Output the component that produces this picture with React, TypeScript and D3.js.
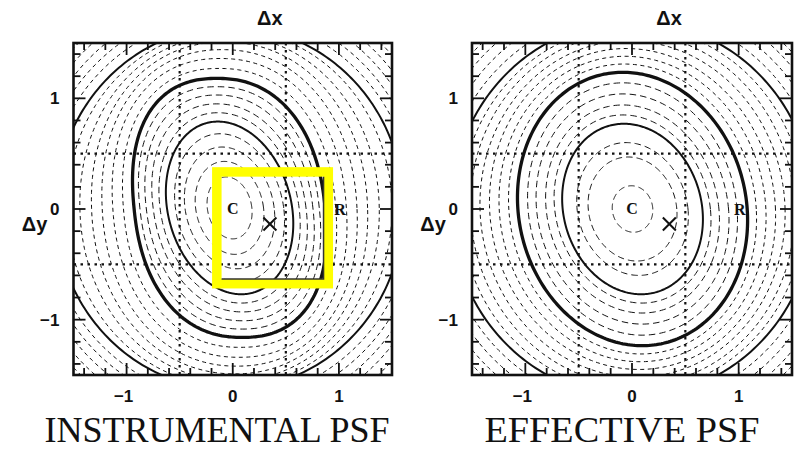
import React from "react";
import * as d3 from "d3";

// each contour: half-width where it crosses the centre row, half-height,
// x-offset of its top point (tilt), squareness exponent (2 = ellipse)
// and line kind (d = dashed, s = thin solid, t = thick)
const instrumentalA = [0.21, 0.32, 0.42, 0.51, 0.59, 0.655, 0.72, 0.785, 0.845, 0.9, 1.0, 1.1, 1.2, 1.3, 1.41, 1.53, 1.64, 1.73, 1.81, 1.89, 1.97, 2.06];
const instrumentalH = [0.28, 0.42, 0.55, 0.67, 0.78, 0.86, 0.94, 1.02, 1.095, 1.17, 1.26, 1.35, 1.43, 1.5, 1.56, 1.61, 1.64, 1.73, 1.81, 1.89, 1.97, 2.06];
const instrumentalB = [-0.03, -0.05, -0.07, -0.09, -0.11, -0.11, -0.12, -0.12, -0.12, -0.12, -0.1, -0.09, -0.07, -0.05, -0.03, -0.01, 0, 0, 0, 0, 0, 0];
const instrumentalP = [2, 2, 2, 2, 2, 2.06, 2.12, 2.18, 2.24, 2.3, 2.25, 2.2, 2.15, 2.1, 2.05, 2.02, 2, 2, 2, 2, 2, 2];
const instrumentalKind = ["d", "d", "d", "d", "s", "d", "d", "d", "d", "t", "d", "d", "d", "d", "d", "d", "s", "d", "d", "d", "d", "d"];
const instrumentalCentre = [-0.03, 0.01];

const effectiveA = [0.19, 0.415, 0.52, 0.655, 0.73, 0.81, 0.9, 0.98, 1.075, 1.16, 1.25, 1.34, 1.43, 1.52, 1.61, 1.7, 1.79, 1.88, 1.97, 2.06];
const effectiveH = [0.21, 0.47, 0.6, 0.77, 0.85, 0.94, 1.04, 1.14, 1.235, 1.31, 1.38, 1.45, 1.52, 1.59, 1.65, 1.7, 1.79, 1.88, 1.97, 2.06];
const effectiveB = [-0.01, -0.04, -0.06, -0.08, -0.09, -0.09, -0.09, -0.09, -0.09, -0.08, -0.07, -0.06, -0.04, -0.03, -0.01, 0, 0, 0, 0, 0];
const effectiveP = [2, 2, 2, 2, 2, 2, 2, 2, 2, 2, 2, 2, 2, 2, 2, 2, 2, 2, 2, 2];
const effectiveKind = ["d", "d", "d", "s", "d", "d", "d", "d", "t", "d", "d", "d", "d", "d", "d", "s", "d", "d", "d", "d"];
const effectiveCentre = [0.005, 0.0];

const gridLines = [-0.5, 0.5];
const majorTicks = [-1, 0, 1];
const minorTicks = [-1.4, -1.2, -0.8, -0.6, -0.4, -0.2, 0.2, 0.4, 0.6, 0.8, 1.2, 1.4];
const tickLabels = ["\u22121", "0", "1"];

// marked positions
const centreMark = [0, 0];
const rightMark = [1.01, 0];
const crossMark = [0.35, -0.135];
const boxX = [-0.15, 0.9];
const boxY = [-0.675, 0.335];

const titles = ["INSTRUMENTAL PSF", "EFFECTIVE PSF"];

const TOP = 43;
const BOTTOM = 375;

const spow = (v, e) => Math.sign(v) * Math.pow(Math.abs(v), e);

const Panel = ({ id, left, right, A, Hs, B, P, kinds, centre, title, titleX, titleLen, showBox }) => {
  const x = d3.scaleLinear().domain([-1.5, 1.5]).range([left, right]);
  const y = d3.scaleLinear().domain([-1.5, 1.5]).range([BOTTOM, TOP]);
  const line = d3.line().curve(d3.curveLinearClosed);
  const angles = d3.range(0, 2 * Math.PI, (2 * Math.PI) / 300);
  const thickAt = kinds.indexOf("t");

  const contourPath = (i) =>
    line(
      angles.map((t) => {
        const u = spow(Math.cos(t), 2 / P[i]);
        const v = spow(Math.sin(t), 2 / P[i]);
        return [x(centre[0] + A[i] * u + B[i] * v), y(centre[1] + Hs[i] * v)];
      })
    );

  const styleFor = (k, i) => {
    if (k === "t") return { strokeWidth: 3.3 };
    if (k === "s") return { strokeWidth: 2 };
    return { strokeWidth: 1, strokeDasharray: i < thickAt ? "6.5,4" : "4,3.5" };
  };

  const cx = (left + right) / 2;
  const ticks = [
    ...majorTicks.map((v) => ({ v, len: 12 })),
    ...minorTicks.map((v) => ({ v, len: 7 })),
  ];

  const bx0 = x(boxX[0]);
  const bx1 = x(boxX[1]);
  const by0 = y(boxY[1]);
  const by1 = y(boxY[0]);
  const bw = 9.5;

  return (
    <g>
      <defs>
        <clipPath id={id}>
          <rect x={left} y={TOP} width={right - left} height={BOTTOM - TOP} />
        </clipPath>
      </defs>
      <g clipPath={`url(#${id})`} fill="none" stroke="#111">
        {A.map((_, i) => (
          <path key={i} d={contourPath(i)} {...styleFor(kinds[i], i)} />
        ))}
        {gridLines.map((g) => (
          <g key={g} strokeWidth={2.2} strokeDasharray="2.5,4.5">
            <line x1={x(g)} x2={x(g)} y1={TOP} y2={BOTTOM} />
            <line x1={left} x2={right} y1={y(g)} y2={y(g)} />
          </g>
        ))}
      </g>
      <g stroke="#111" strokeWidth={1.8}>
        {ticks.map(({ v, len }) => (
          <g key={v}>
            <line x1={x(v)} x2={x(v)} y1={BOTTOM} y2={BOTTOM - len} />
            <line x1={x(v)} x2={x(v)} y1={TOP} y2={TOP + len} />
            <line x1={left} x2={left + len} y1={y(v)} y2={y(v)} />
            <line x1={right} x2={right - len} y1={y(v)} y2={y(v)} />
          </g>
        ))}
      </g>
      <rect x={left} y={TOP} width={right - left} height={BOTTOM - TOP} fill="none" stroke="#111" strokeWidth={2.6} />
      {showBox && (
        <g>
          <rect x={bx0} y={by0} width={bx1 - bx0} height={by1 - by0} fill="none" stroke="#ffff00" strokeWidth={bw} />
          <polyline
            points={`${bx1 - bw / 2},${by0 + bw / 2} ${bx1 - bw / 2},${by1 - bw / 2} ${bx0 + bw / 2},${by1 - bw / 2}`}
            fill="none"
            stroke="#333"
            strokeWidth={1.5}
          />
        </g>
      )}
      <g fontFamily="Liberation Sans, Arial, sans-serif" fontWeight="bold" fontSize={17} fill="#111">
        {majorTicks.map((v, i) => (
          <text key={`b${v}`} x={x(v) - (v < 0 ? 3 : 0)} y={402} textAnchor="middle">
            {tickLabels[i]}
          </text>
        ))}
        {majorTicks.map((v, i) => (
          <text key={`l${v}`} x={left - 14} y={y(v) + 6} textAnchor="end">
            {tickLabels[i]}
          </text>
        ))}
        <text x={cx + 37} y={25} textAnchor="middle" fontSize={20}>
          Δx
        </text>
        <text x={left - 39} y={231} textAnchor="middle" fontSize={20}>
          Δy
        </text>
      </g>
      <g fontFamily="Liberation Serif, Times New Roman, serif" fill="#111">
        <text x={x(centreMark[0])} y={y(centreMark[1]) + 5} textAnchor="middle" fontSize={16} fontWeight="bold">
          C
        </text>
        <text x={x(rightMark[0])} y={y(rightMark[1]) + 6} textAnchor="middle" fontSize={16} fontWeight="bold">
          R
        </text>
        <text x={titleX} y={442} textAnchor="middle" fontSize={36} textLength={titleLen} lengthAdjust="spacingAndGlyphs">
          {title}
        </text>
      </g>
      <g stroke="#111" strokeWidth={2}>
        <line x1={x(crossMark[0]) - 6.5} x2={x(crossMark[0]) + 6.5} y1={y(crossMark[1]) - 6.5} y2={y(crossMark[1]) + 6.5} />
        <line x1={x(crossMark[0]) - 6.5} x2={x(crossMark[0]) + 6.5} y1={y(crossMark[1]) + 6.5} y2={y(crossMark[1]) - 6.5} />
      </g>
    </g>
  );
};

export default function App() {
  return (
    <svg width={800} height={451} style={{ position: "absolute", left: 0, top: 0, background: "#fff" }}>
      <rect width={800} height={451} fill="#fff" />
      <Panel
        id="clipInstr"
        left={73.5}
        right={392}
        A={instrumentalA}
        Hs={instrumentalH}
        B={instrumentalB}
        P={instrumentalP}
        kinds={instrumentalKind}
        centre={instrumentalCentre}
        title={titles[0]}
        titleX={217}
        titleLen={345}
        showBox={true}
      />
      <Panel
        id="clipEff"
        left={472}
        right={792}
        A={effectiveA}
        Hs={effectiveH}
        B={effectiveB}
        P={effectiveP}
        kinds={effectiveKind}
        centre={effectiveCentre}
        title={titles[1]}
        titleX={622}
        titleLen={275}
        showBox={false}
      />
    </svg>
  );
}
